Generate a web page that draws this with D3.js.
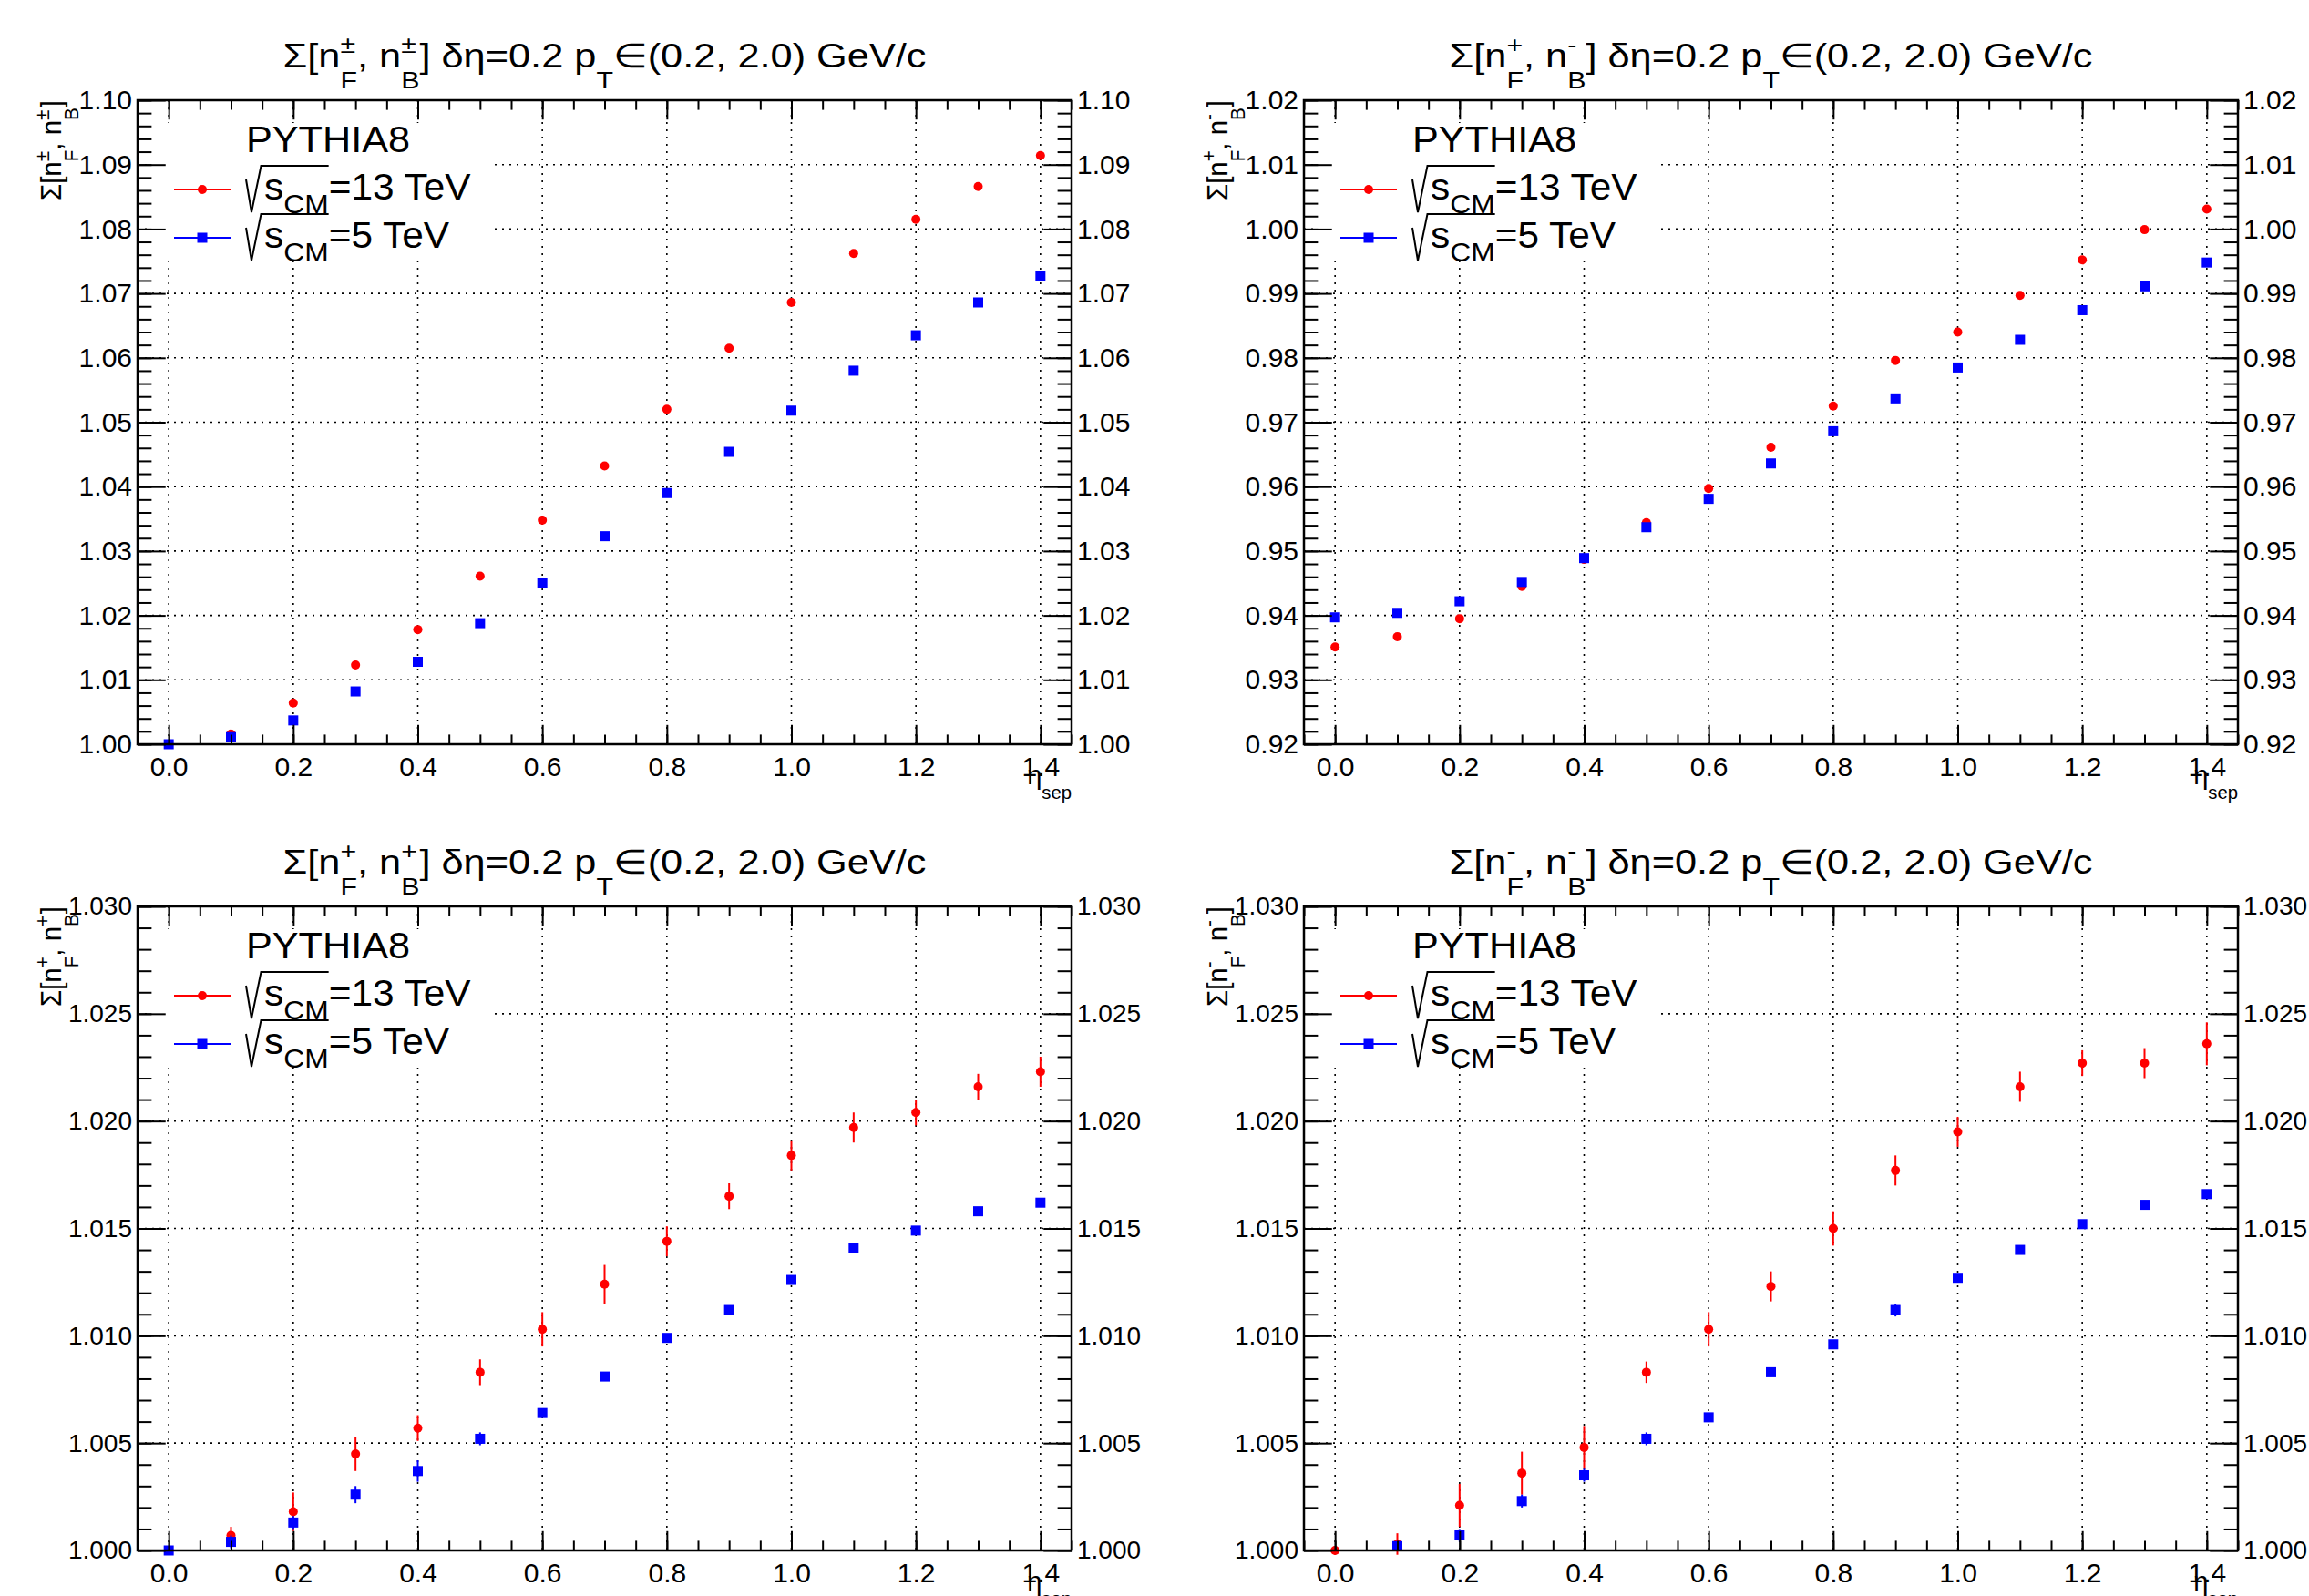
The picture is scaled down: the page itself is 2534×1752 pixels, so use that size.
<!DOCTYPE html>
<html>
<head>
<meta charset="utf-8">
<script src="https://cdn.jsdelivr.net/npm/d3@7"></script>
<style>
body{margin:0;background:#fff;}
svg{display:block;}
text{font-family:"Liberation Sans",Arial,Helvetica,sans-serif;white-space:pre;}
</style>
</head>
<body>
<script>
// eta_sep bins
let etaSep = [0.0, 0.1, 0.2, 0.3, 0.4, 0.5, 0.6, 0.7, 0.8, 0.9, 1.0, 1.1, 1.2, 1.3, 1.4];

// x axis
let xMajor = [0.0, 0.2, 0.4, 0.6, 0.8, 1.0, 1.2, 1.4];

// Sigma[n+-F, n+-B]
let pmpm13 = [1.0000, 1.0016, 1.0064, 1.0123, 1.0178, 1.0261, 1.0348, 1.0432, 1.0520, 1.0615, 1.0686, 1.0762, 1.0815, 1.0866, 1.0914];
let pmpm13Err = [0.0001, 0.0002, 0.0002, 0.0002, 0.0002, 0.0002, 0.0002, 0.0002, 0.0002, 0.0002, 0.0003, 0.0003, 0.0003, 0.0003, 0.0003];
let pmpm5 = [1.0000, 1.0011, 1.0037, 1.0082, 1.0128, 1.0188, 1.0250, 1.0323, 1.0390, 1.0454, 1.0518, 1.0580, 1.0635, 1.0686, 1.0727];
let pmpm5Err = [0.0001, 0.0001, 0.0001, 0.0001, 0.0001, 0.0001, 0.0001, 0.0001, 0.0001, 0.0001, 0.0001, 0.0001, 0.0001, 0.0001, 0.0001];

// Sigma[n+F, n-B]
let pm13 = [0.9351, 0.9367, 0.9395, 0.9445, 0.9487, 0.9544, 0.9597, 0.9661, 0.9725, 0.9796, 0.9840, 0.9897, 0.9952, 0.9999, 1.0031];
let pm13Err = [0.0002, 0.0002, 0.0002, 0.0002, 0.0002, 0.0002, 0.0002, 0.0002, 0.0002, 0.0002, 0.0002, 0.0002, 0.0003, 0.0003, 0.0003];
let pm5 = [0.9397, 0.9404, 0.9422, 0.9452, 0.9489, 0.9537, 0.9581, 0.9636, 0.9686, 0.9737, 0.9785, 0.9828, 0.9874, 0.9911, 0.9948];
let pm5Err = [0.0001, 0.0001, 0.0001, 0.0001, 0.0001, 0.0001, 0.0001, 0.0001, 0.0001, 0.0001, 0.0001, 0.0001, 0.0001, 0.0001, 0.0001];

// Sigma[n+F, n+B]
let pp13 = [1.0000, 1.0007, 1.0018, 1.0045, 1.0057, 1.0083, 1.0103, 1.0124, 1.0144, 1.0165, 1.0184, 1.0197, 1.0204, 1.0216, 1.0223];
let pp13Err = [0.0002, 0.0004, 0.0009, 0.0008, 0.0006, 0.0006, 0.0008, 0.0009, 0.0007, 0.0006, 0.0007, 0.0007, 0.0006, 0.0006, 0.0007];
let pp5 = [1.0000, 1.0004, 1.0013, 1.0026, 1.0037, 1.0052, 1.0064, 1.0081, 1.0099, 1.0112, 1.0126, 1.0141, 1.0149, 1.0158, 1.0162];
let pp5Err = [0.0001, 0.0003, 0.0003, 0.0004, 0.0005, 0.0003, 0.0002, 0.0002, 0.0002, 0.0002, 0.0002, 0.0002, 0.0002, 0.0002, 0.0002];

// Sigma[n-F, n-B]
let mm13 = [1.0000, 1.0003, 1.0021, 1.0036, 1.0048, 1.0083, 1.0103, 1.0123, 1.0150, 1.0177, 1.0195, 1.0216, 1.0227, 1.0227, 1.0236];
let mm13Err = [0.0002, 0.0005, 0.0010, 0.0010, 0.0010, 0.0005, 0.0008, 0.0007, 0.0008, 0.0007, 0.0007, 0.0007, 0.0006, 0.0007, 0.0010];
let mm5 = [null, 1.0002, 1.0007, 1.0023, 1.0035, 1.0052, 1.0062, 1.0083, 1.0096, 1.0112, 1.0127, 1.0140, 1.0152, 1.0161, 1.0166];
let mm5Err = [0, 0.0002, 0.0003, 0.0003, 0.0003, 0.0003, 0.0002, 0.0002, 0.0002, 0.0003, 0.0002, 0.0002, 0.0002, 0.0002, 0.0002];

// y ranges / ticks
let yMajorTop1 = [1.00, 1.01, 1.02, 1.03, 1.04, 1.05, 1.06, 1.07, 1.08, 1.09, 1.10];
let yMajorTop2 = [0.92, 0.93, 0.94, 0.95, 0.96, 0.97, 0.98, 0.99, 1.00, 1.01, 1.02];
let yMajorBot = [1.000, 1.005, 1.010, 1.015, 1.020, 1.025, 1.030];

let legendTitle = 'PYTHIA8',
legend13 = '=13 TeV',
legend5 = '=5 TeV';

let W = 2534, H = 1752;
let svg = d3.select('body').append('svg').attr('width', W).attr('height', H);
svg.append('rect').attr('width', W).attr('height', H).attr('fill', '#fff');

let panels = [
	{x0: 151, x1: 1176, y0: 110, y1: 817, ydom: [1.00, 1.10], ymaj: yMajorTop1, ystep: 0.002, fmt: '.2f', lfs: 30,
	 sup: ['±', '±'], red: pmpm13, redErr: pmpm13Err, blue: pmpm5, blueErr: pmpm5Err},
	{x0: 1431, x1: 2456, y0: 110, y1: 817, ydom: [0.92, 1.02], ymaj: yMajorTop2, ystep: 0.002, fmt: '.2f', lfs: 30,
	 sup: ['+', '-'], red: pm13, redErr: pm13Err, blue: pm5, blueErr: pm5Err},
	{x0: 151, x1: 1176, y0: 995, y1: 1702, ydom: [1.000, 1.030], ymaj: yMajorBot, ystep: 0.001, fmt: '.3f', lfs: 28,
	 sup: ['+', '+'], red: pp13, redErr: pp13Err, blue: pp5, blueErr: pp5Err},
	{x0: 1431, x1: 2456, y0: 995, y1: 1702, ydom: [1.000, 1.030], ymaj: yMajorBot, ystep: 0.001, fmt: '.3f', lfs: 28,
	 sup: ['-', '-'], red: mm13, redErr: mm13Err, blue: mm5, blueErr: mm5Err}
];

//lay out a latex-like string made of pieces, returns the advance width
function rich(g, pieces, size){
	let x = 0, stackW = 0;
	pieces.forEach(p=>{
		let t = g.append('text')
		.attr('x', x)
		.attr('y', (p.dy || 0) * size)
		.attr('font-size', size * (p.s || 1))
		.text(p.t);
		let w = t.node().getComputedTextLength();
		if(p.stack){
			stackW = Math.max(stackW, w);
		}else{
			x += Math.max(w, stackW);
			stackW = 0;
		}
	});
	return x;
}

function sigmaPieces(sup, tail){
	let p = [
		{t: 'Σ[n'}, {t: sup[0], s: .7, dy: -.42, stack: true}, {t: 'F', s: .7, dy: .62},
		{t: ', n'}, {t: sup[1], s: .7, dy: -.42, stack: true}, {t: 'B', s: .7, dy: .62},
		{t: ']'}
	];
	return tail ? p.concat(tail) : p;
}

let titleTail = [{t: ' δη=0.2 p'}, {t: 'T', s: .7, dy: .62}, {t: '∈(0.2, 2.0) GeV/c'}];
let titleSx = null, ytitleSx = null;

panels.forEach((P, pi)=>{
	let x = d3.scaleLinear().domain([-0.05, 1.45]).range([P.x0, P.x1]),
	y = d3.scaleLinear().domain(P.ydom).range([P.y1, P.y0]);
	let fw = P.x1 - P.x0, fh = P.y1 - P.y0;
	let g = svg.append('g');

	//grid
	let grid = g.append('g').attr('stroke', '#000').attr('stroke-width', 1.6).attr('stroke-dasharray', '2,6');
	xMajor.forEach(v=>{
		grid.append('line').attr('x1', x(v)).attr('x2', x(v)).attr('y1', P.y0).attr('y2', P.y1);
	});
	P.ymaj.forEach(v=>{
		grid.append('line').attr('x1', P.x0).attr('x2', P.x1).attr('y1', y(v)).attr('y2', y(v));
	});

	//legend box covering grid
	g.append('rect')
	.attr('x', P.x0 + 10).attr('y', P.y0 + 25)
	.attr('width', 386 - 10).attr('height', 177 - 25)
	.attr('fill', '#fff');

	//data
	let series = [
		{v: P.red, e: P.redErr, c: '#ff0000', m: 'circle'},
		{v: P.blue, e: P.blueErr, c: '#0000ff', m: 'square'}
	];
	series.forEach(s=>{
		let pts = etaSep.map((d, i)=>({x: d, y: s.v[i], e: s.e[i]})).filter(d=>d.y !== null);
		g.append('g').selectAll('line').data(pts).enter().append('line')
		.attr('x1', d=>x(d.x)).attr('x2', d=>x(d.x))
		.attr('y1', d=>y(d.y - d.e)).attr('y2', d=>y(d.y + d.e))
		.attr('stroke', s.c).attr('stroke-width', 2);
		if(s.m == 'circle'){
			g.append('g').selectAll('circle').data(pts).enter().append('circle')
			.attr('cx', d=>x(d.x)).attr('cy', d=>y(d.y)).attr('r', 5)
			.attr('fill', s.c);
		}else{
			g.append('g').selectAll('rect').data(pts).enter().append('rect')
			.attr('x', d=>x(d.x) - 5.5).attr('y', d=>y(d.y) - 5.5)
			.attr('width', 11).attr('height', 11)
			.attr('fill', s.c);
		}
	});

	//axes
	let yMinor = d3.range(Math.round((P.ydom[1] - P.ydom[0]) / P.ystep) + 1).map(i=>P.ydom[0] + i * P.ystep),
	xMinor = d3.range(31).map(i=>-0.05 + i * 0.05);
	let ytl = 0.03 * fw, xtl = 0.03 * fh;
	let axes = [
		[d3.axisLeft(y).tickValues(P.ymaj).tickSizeInner(-ytl).tickPadding(6).tickFormat(d3.format(P.fmt)), P.x0, 0, P.lfs],
		[d3.axisLeft(y).tickValues(yMinor).tickSizeInner(-ytl / 2).tickFormat(''), P.x0, 0, P.lfs],
		[d3.axisRight(y).tickValues(P.ymaj).tickSizeInner(-ytl).tickPadding(6).tickFormat(d3.format(P.fmt)), P.x1, 0, P.lfs],
		[d3.axisRight(y).tickValues(yMinor).tickSizeInner(-ytl / 2).tickFormat(''), P.x1, 0, P.lfs],
		[d3.axisBottom(x).tickValues(xMajor).tickSizeInner(-xtl).tickPadding(14).tickFormat(d3.format('.1f')), 0, P.y1, 30],
		[d3.axisBottom(x).tickValues(xMinor).tickSizeInner(-xtl / 2).tickFormat(''), 0, P.y1, 30],
		[d3.axisTop(x).tickValues(xMajor).tickSizeInner(-xtl).tickFormat(''), 0, P.y0, 30],
		[d3.axisTop(x).tickValues(xMinor).tickSizeInner(-xtl / 2).tickFormat(''), 0, P.y0, 30]
	];
	axes.forEach(a=>{
		let ag = g.append('g').attr('transform', 'translate(' + a[1] + ',' + a[2] + ')').call(a[0].tickSizeOuter(0));
		ag.select('.domain').remove();
		ag.attr('font-size', a[3]).attr('font-family', null);
		ag.selectAll('line').attr('stroke', '#000').attr('stroke-width', 2);
		ag.selectAll('text').attr('fill', '#000');
	});

	//frame
	g.append('rect')
	.attr('x', P.x0).attr('y', P.y0).attr('width', fw).attr('height', fh)
	.attr('fill', 'none').attr('stroke', '#000').attr('stroke-width', 2.5);

	//title
	let tg = g.append('g');
	let tw = rich(tg, sigmaPieces(P.sup, titleTail), 37);
	if(titleSx === null) titleSx = 706 / tw;
	tg.attr('transform', 'translate(' + ((P.x0 + P.x1) / 2 - tw * titleSx / 2) + ',' + (P.y0 - 36) + ') scale(' + titleSx + ',1)');

	//y axis title
	let yg = g.append('g');
	let yw = rich(yg, sigmaPieces(P.sup), 31);
	if(ytitleSx === null) ytitleSx = 110 / yw;
	yg.attr('transform', 'translate(' + (P.x0 - 84) + ',' + P.y0 + ') rotate(-90) scale(' + ytitleSx + ',1) translate(' + (-yw) + ',0)');

	//x axis title
	let xg = g.append('g');
	let xw = rich(xg, [{t: 'η'}, {t: 'sep', s: .7, dy: .55}], 29);
	xg.attr('transform', 'translate(' + (P.x1 - xw) + ',' + (P.y1 + 44) + ')');

	//legend
	let lx = P.x0 + 119;
	g.append('text').attr('transform', 'translate(' + lx + ',' + (P.y0 + 57) + ') scale(1.08,1)')
	.attr('font-size', 40).text(legendTitle);

	[[legend13, '#ff0000', 'circle', 109], [legend5, '#0000ff', 'square', 162]].forEach(e=>{
		let yb = P.y0 + e[3], ly = yb - 11;
		g.append('line').attr('x1', P.x0 + 40).attr('x2', P.x0 + 102).attr('y1', ly).attr('y2', ly)
		.attr('stroke', e[1]).attr('stroke-width', 2);
		if(e[2] == 'circle'){
			g.append('circle').attr('cx', P.x0 + 71).attr('cy', ly).attr('r', 5).attr('fill', e[1]);
		}else{
			g.append('rect').attr('x', P.x0 + 71 - 5.5).attr('y', ly - 5.5).attr('width', 11).attr('height', 11).attr('fill', e[1]);
		}
		let eg = g.append('g');
		let sw = rich(eg, [{t: 's'}, {t: 'CM', s: .75, dy: .38}], 40);
		eg.append('g').attr('transform', 'translate(' + sw + ',0)').call(s=>rich(s, [{t: e[0]}], 40));
		let sx = 1.06;
		eg.attr('transform', 'translate(' + (lx + 20) + ',' + yb + ') scale(' + sx + ',1)');
		g.append('path')
		.attr('d', 'M' + lx + ',' + (yb - 22) + 'L' + (lx + 6) + ',' + (yb + 14) + 'L' + (lx + 16.5) + ',' + (yb - 37) + 'L' + (lx + 20 + sw * sx) + ',' + (yb - 37))
		.attr('fill', 'none').attr('stroke', '#000').attr('stroke-width', 2);
	});
});
</script>
</body>
</html>
